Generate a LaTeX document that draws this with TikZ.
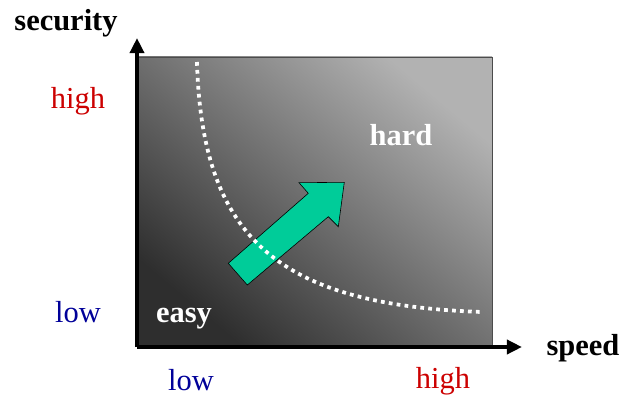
\documentclass[tikz,border=0pt]{standalone}
\usepackage{fontspec}
\setmainfont{Liberation Serif}
\usetikzlibrary{arrows.meta}
\definecolor{arrowgreen}{RGB}{0,204,153}
\definecolor{hired}{RGB}{204,0,0}
\definecolor{loblue}{RGB}{0,0,153}

\tikzset{
  axlabel/.style={font=\fontsize{26}{30}\selectfont\bfseries, anchor=base},
  levlabel/.style={font=\fontsize{26}{30}\selectfont, anchor=base},
  inlabel/.style={font=\fontsize{26}{30}\selectfont\bfseries, text=white, anchor=base},
}

\begin{document}
\begin{tikzpicture}[x=0.03cm, y=-0.03cm, >={Triangle[length=13pt, width=12pt]}]
  \useasboundingbox (0,0) rectangle (626,396);

  \coordinate (O) at (137, 347);
  \coordinate (Ytip) at (137, 38);
  \coordinate (Xtip) at (522, 347);

  % shaded field
  \shade[top color=black!30, bottom color=black!82, shading angle=-40]
    (138, 57) rectangle (492, 345);
  \draw[black!70, line width=0.6pt] (138, 57) rectangle (492, 345);

  % direction arrow
  \draw[fill=arrowgreen, draw=black, line width=0.5pt]
    (228.3, 263.3) -- (247.3, 285) -- (328.3, 216.7) -- (338.3, 226.7)
    -- (344.3, 182.3) -- (299, 182.7) -- (308.3, 193.3) -- cycle;

  % boundary curve
  \draw[white, line width=3.2pt, dash pattern=on 3.2pt off 3.6pt]
    (197, 62) .. controls (202, 240) and (280, 305) .. (482, 312);

  % axes
  \draw[->, line width=3.4pt] (O) -- (Ytip);
  \draw[->, line width=3.4pt] (O) -- (Xtip);

  \node[axlabel] (security) at (66, 31) {security};
  \node[axlabel] (speed) at (583, 355) {speed};
  \node[levlabel, text=hired] (sechigh) at (78, 108) {high};
  \node[levlabel, text=loblue] (seclow) at (78, 322) {low};
  \node[levlabel, text=loblue] (spdlow) at (191, 390) {low};
  \node[levlabel, text=hired] (spdhigh) at (443, 388) {high};
  \node[inlabel] (easy) at (184, 322) {easy};
  \node[inlabel] (hard) at (401, 145) {hard};
\end{tikzpicture}
\end{document}
